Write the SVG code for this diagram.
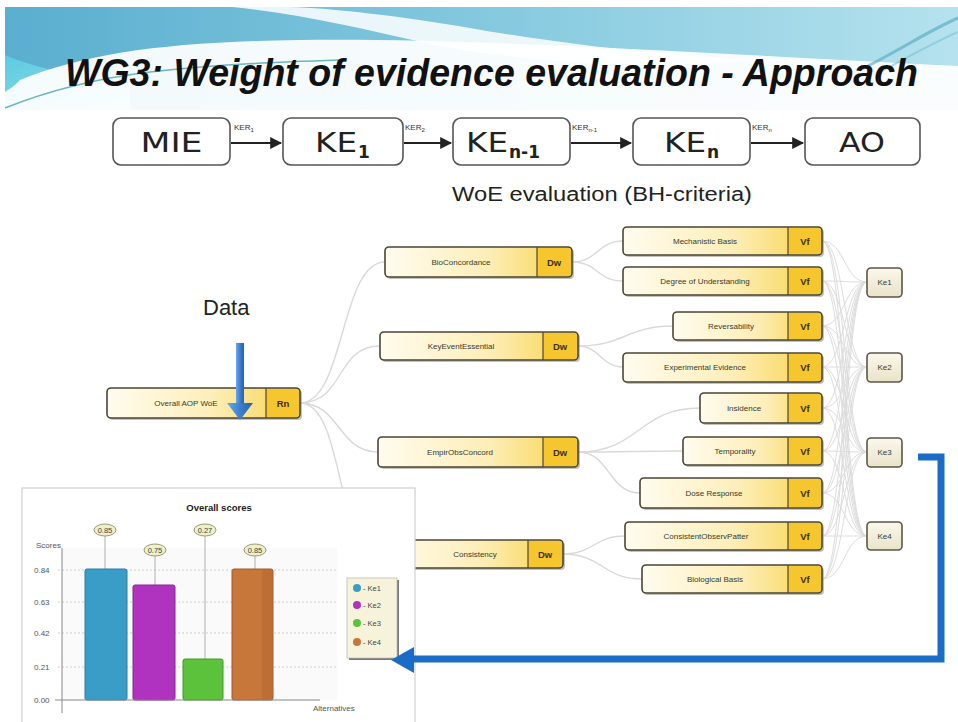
<svg xmlns="http://www.w3.org/2000/svg" width="958" height="722" viewBox="0 0 958 722">
<defs>
<linearGradient id="band" x1="0" y1="0" x2="1" y2="0">
<stop offset="0" stop-color="#5aaecf"/><stop offset="0.45" stop-color="#7fc6dd"/><stop offset="1" stop-color="#b5e2ee"/>
</linearGradient>
<linearGradient id="cyanLobe" x1="0" y1="0" x2="1" y2="1">
<stop offset="0" stop-color="#5ccbe0"/><stop offset="1" stop-color="#9fdde9"/>
</linearGradient>
<linearGradient id="nodeFill" x1="0" y1="0" x2="1" y2="0">
<stop offset="0" stop-color="#fffcef"/><stop offset="0.55" stop-color="#fdeeb8"/><stop offset="1" stop-color="#f8d24a"/>
</linearGradient>
<linearGradient id="keFill" x1="0" y1="0" x2="0" y2="1">
<stop offset="0" stop-color="#fbf8ec"/><stop offset="1" stop-color="#e9e3c8"/>
</linearGradient>
<linearGradient id="dataArrow" x1="0" y1="0" x2="1" y2="0">
<stop offset="0" stop-color="#6aa8e8"/><stop offset="0.5" stop-color="#3a7fd0"/><stop offset="1" stop-color="#2a5fae"/>
</linearGradient>
<marker id="arr" viewBox="0 0 10 10" refX="9" refY="5" markerWidth="6" markerHeight="6" orient="auto">
<path d="M0,0 L10,5 L0,10 Z" fill="#222"/>
</marker>
<style>
.aop rect{fill:#fff;stroke:#555;stroke-width:1.6}
.aopt{font-family:"DejaVu Sans",sans-serif;font-size:27px;fill:#222}
.sub{font-family:"DejaVu Sans",sans-serif;font-size:17px;fill:#222;font-weight:bold}
.ker{font-family:"Liberation Sans",sans-serif;font-size:8px;fill:#333}
.kersub{font-size:6px}
.aline{stroke:#222;stroke-width:2;fill:none;marker-end:url(#arr)}
.node .sh{fill:#8a8670;opacity:0.5}
.node .bx{fill:url(#nodeFill);stroke:#4a4636;stroke-width:1.6}
.node .tg{fill:#f6c62e}
.node .sep{stroke:#4a4636;stroke-width:1.2}
.lbl{font-family:"Liberation Sans",sans-serif;font-size:8px;fill:#3a3a2a;text-anchor:middle}
.tag{font-family:"Liberation Sans",sans-serif;font-size:9.5px;font-weight:bold;fill:#3a3320;text-anchor:middle}
.ke .bx{fill:url(#keFill);stroke:#5a5648;stroke-width:1.6}
.conn path{fill:none;stroke:#d9d9d9;stroke-width:1.4}
.web path{fill:none;stroke:#dcdcdc;stroke-width:1}
.ax{font-family:"Liberation Sans",sans-serif;font-size:8px;fill:#555}
.grid{stroke:#cfcfcf;stroke-width:1;stroke-dasharray:2,2}
.bub{fill:#eef0c8;stroke:#9a9a78;stroke-width:1}
.bubt{font-family:"Liberation Sans",sans-serif;font-size:7.5px;fill:#444;text-anchor:middle}
.leg{font-family:"Liberation Sans",sans-serif;font-size:7.5px;fill:#444}
</style>
</defs>
<rect x="0" y="0" width="958" height="722" fill="#ffffff"/>

<!-- banner -->
<g id="banner">
<rect x="5" y="7" width="953" height="103" fill="url(#band)"/>
<path d="M5,55 C40,70 80,78 130,74 L130,110 L5,110 Z" fill="url(#cyanLobe)"/>
<path d="M232,7 C300,14 360,28 430,44 C520,62 640,70 760,60 C680,58 560,44 470,28 C400,16 330,8 290,7 Z" fill="#ffffff" opacity="0.85"/>
<path d="M20,80 C90,52 170,42 300,40 C480,38 680,52 958,66 L958,112 L5,112 L5,92 C15,86 18,82 20,80 Z" fill="#ffffff" opacity="0.93"/>
<path d="M5,108 C50,90 100,78 150,72 C220,64 280,62 340,60" fill="none" stroke="#4aa6ad" stroke-width="1.6" opacity="0.8"/>
<path d="M860,70 C900,50 930,30 958,18" fill="none" stroke="#4fa7bf" stroke-width="3" opacity="0.6"/>
<path d="M880,72 C910,56 935,42 958,32" fill="none" stroke="#7cc3d6" stroke-width="2" opacity="0.6"/>
<rect x="0" y="110" width="958" height="6" fill="#ffffff"/>
<text x="65" y="86" font-family="Liberation Sans, Arial, sans-serif" font-size="38" font-weight="bold" font-style="italic" fill="#111" textLength="853" lengthAdjust="spacingAndGlyphs">WG3: Weight of evidence evaluation - Approach</text>
</g>

<!-- AOP chain -->
<g id="aop-chain">
<g id="mie" class="aop"><rect x="113" y="118" width="117" height="47" rx="8"/><text class="aopt" x="171.5" y="152" text-anchor="middle" textLength="62" lengthAdjust="spacingAndGlyphs">MIE</text></g>
<g id="ke1" class="aop"><rect x="283" y="118" width="120" height="47" rx="8"/><text class="aopt" x="315" y="152" textLength="42" lengthAdjust="spacingAndGlyphs">KE</text><text class="sub" x="358" y="158">1</text></g>
<g id="ken1" class="aop"><rect x="453" y="118" width="117" height="47" rx="8"/><text class="aopt" x="466" y="152" textLength="42" lengthAdjust="spacingAndGlyphs">KE</text><text class="sub" x="509" y="158">n-1</text></g>
<g id="ken" class="aop"><rect x="633" y="118" width="117" height="47" rx="8"/><text class="aopt" x="664" y="152" textLength="42" lengthAdjust="spacingAndGlyphs">KE</text><text class="sub" x="707" y="158">n</text></g>
<g id="ao" class="aop"><rect x="805" y="118" width="115" height="47" rx="8"/><text class="aopt" x="862" y="152" text-anchor="middle" textLength="46" lengthAdjust="spacingAndGlyphs">AO</text></g>
</g>
<g id="aop-connectors">
<path class="aline" d="M231,143 H281"/>
<path class="aline" d="M404,143 H451"/>
<path class="aline" d="M571,143 H631"/>
<path class="aline" d="M751,143 H803"/>
<text class="ker" x="234" y="130">KER<tspan class="kersub" dy="2">1</tspan></text>
<text class="ker" x="405" y="130">KER<tspan class="kersub" dy="2">2</tspan></text>
<text class="ker" x="572" y="130">KER<tspan class="kersub" dy="2">n-1</tspan></text>
<text class="ker" x="752" y="130">KER<tspan class="kersub" dy="2">n</tspan></text>
</g>

<text x="452" y="201" font-family="Liberation Sans, Arial, sans-serif" font-size="20" fill="#222" textLength="300" lengthAdjust="spacingAndGlyphs">WoE evaluation (BH-criteria)</text>
<text x="203" y="315" font-family="Liberation Sans, Arial, sans-serif" font-size="22" fill="#222">Data</text>

<!-- connectors -->
<g id="connectors">
<g class="conn">
<path d="M300,403 C345,403 340,262 385,262"/>
<path d="M300,403 C345,403 335,346 380,346"/>
<path d="M300,403 C340,403 338,452 378,452"/>
<path d="M300,403 C345,403 335,554 380,554"/>
<path d="M572,262 C598,262 597,241 623,241"/>
<path d="M572,262 C598,262 597,281 623,281"/>
<path d="M578,346 C625,346 626,326 673,326"/>
<path d="M578,346 C600,346 601,367 623,367"/>
<path d="M578,452 C640,452 638,408 700,408"/>
<path d="M578,452 C630,452 631,451 683,451"/>
<path d="M578,452 C610,452 608,493 640,493"/>
<path d="M563,554 C594,554 594,536 625,536"/>
<path d="M563,554 C602,554 603,579 642,579"/>
</g>
<g class="web">
<path d="M822,241 C845,241 844,282 867,282"/><path d="M822,241 C845,241 844,367 867,367"/><path d="M822,241 C845,241 844,452 867,452"/><path d="M822,241 C845,241 844,536 867,536"/>
<path d="M822,281 C845,281 844,282 867,282"/><path d="M822,281 C845,281 844,367 867,367"/><path d="M822,281 C845,281 844,452 867,452"/><path d="M822,281 C845,281 844,536 867,536"/>
<path d="M822,326 C845,326 844,282 867,282"/><path d="M822,326 C845,326 844,367 867,367"/><path d="M822,326 C845,326 844,452 867,452"/><path d="M822,326 C845,326 844,536 867,536"/>
<path d="M822,367 C845,367 844,282 867,282"/><path d="M822,367 C845,367 844,367 867,367"/><path d="M822,367 C845,367 844,452 867,452"/><path d="M822,367 C845,367 844,536 867,536"/>
<path d="M822,408 C845,408 844,282 867,282"/><path d="M822,408 C845,408 844,367 867,367"/><path d="M822,408 C845,408 844,452 867,452"/><path d="M822,408 C845,408 844,536 867,536"/>
<path d="M822,451 C845,451 844,282 867,282"/><path d="M822,451 C845,451 844,367 867,367"/><path d="M822,451 C845,451 844,452 867,452"/><path d="M822,451 C845,451 844,536 867,536"/>
<path d="M822,493 C845,493 844,282 867,282"/><path d="M822,493 C845,493 844,367 867,367"/><path d="M822,493 C845,493 844,452 867,452"/><path d="M822,493 C845,493 844,536 867,536"/>
<path d="M822,536 C845,536 844,282 867,282"/><path d="M822,536 C845,536 844,367 867,367"/><path d="M822,536 C845,536 844,452 867,452"/><path d="M822,536 C845,536 844,536 867,536"/>
<path d="M822,579 C845,579 844,282 867,282"/><path d="M822,579 C845,579 844,367 867,367"/><path d="M822,579 C845,579 844,452 867,452"/><path d="M822,579 C845,579 844,536 867,536"/>
</g>
</g>

<!-- tree nodes -->
<g id="overall" class="node"><rect class="sh" x="109" y="390" width="193" height="30" rx="4"/><rect class="bx" x="107" y="388" width="193" height="30" rx="4"/><path class="tg" d="M266,389 H296 Q299,389 299,392 V414 Q299,417 296,417 H266 Z"/><line class="sep" x1="266" y1="388" x2="266" y2="418"/><text class="lbl" x="186" y="406">Overall AOP WoE</text><text class="tag" x="283" y="407">Rn</text></g>

<g id="bioconcordance" class="node"><rect class="sh" x="387" y="249" width="187" height="30" rx="4"/><rect class="bx" x="385" y="247" width="187" height="30" rx="4"/><path class="tg" d="M537,248 H568 Q571,248 571,251 V273 Q571,276 568,276 H537 Z"/><line class="sep" x1="537" y1="247" x2="537" y2="277"/><text class="lbl" x="461" y="265">BioConcordance</text><text class="tag" x="554" y="266">Dw</text></g>
<g id="keyeventessential" class="node"><rect class="sh" x="382" y="334" width="198" height="28" rx="4"/><rect class="bx" x="380" y="332" width="198" height="28" rx="4"/><path class="tg" d="M543,333 H574 Q577,333 577,336 V356 Q577,359 574,359 H543 Z"/><line class="sep" x1="543" y1="332" x2="543" y2="360"/><text class="lbl" x="461" y="349">KeyEventEssential</text><text class="tag" x="560" y="350">Dw</text></g>
<g id="empirobsconcord" class="node"><rect class="sh" x="380" y="439" width="200" height="30" rx="4"/><rect class="bx" x="378" y="437" width="200" height="30" rx="4"/><path class="tg" d="M543,438 H574 Q577,438 577,441 V463 Q577,466 574,466 H543 Z"/><line class="sep" x1="543" y1="437" x2="543" y2="467"/><text class="lbl" x="460" y="455">EmpirObsConcord</text><text class="tag" x="560" y="456">Dw</text></g>
<g id="consistency" class="node"><rect class="sh" x="382" y="542" width="183" height="28" rx="4"/><rect class="bx" x="380" y="540" width="183" height="28" rx="4"/><path class="tg" d="M528,541 H559 Q562,541 562,544 V564 Q562,567 559,567 H528 Z"/><line class="sep" x1="528" y1="540" x2="528" y2="568"/><text class="lbl" x="475" y="557">Consistency</text><text class="tag" x="545" y="558">Dw</text></g>

<g id="mechanistic-basis" class="node"><rect class="sh" x="625" y="229" width="199" height="28" rx="4"/><rect class="bx" x="623" y="227" width="199" height="28" rx="4"/><path class="tg" d="M788,228 H818 Q821,228 821,231 V251 Q821,254 818,254 H788 Z"/><line class="sep" x1="788" y1="227" x2="788" y2="255"/><text class="lbl" x="705" y="244">Mechanistic Basis</text><text class="tag" x="805" y="245">Vf</text></g>
<g id="degree-of-understanding" class="node"><rect class="sh" x="625" y="269" width="199" height="28" rx="4"/><rect class="bx" x="623" y="267" width="199" height="28" rx="4"/><path class="tg" d="M788,268 H818 Q821,268 821,271 V291 Q821,294 818,294 H788 Z"/><line class="sep" x1="788" y1="267" x2="788" y2="295"/><text class="lbl" x="705" y="284">Degree of Understanding</text><text class="tag" x="805" y="285">Vf</text></g>
<g id="reversability" class="node"><rect class="sh" x="675" y="314" width="149" height="28" rx="4"/><rect class="bx" x="673" y="312" width="149" height="28" rx="4"/><path class="tg" d="M788,313 H818 Q821,313 821,316 V336 Q821,339 818,339 H788 Z"/><line class="sep" x1="788" y1="312" x2="788" y2="340"/><text class="lbl" x="731" y="329">Reversability</text><text class="tag" x="805" y="330">Vf</text></g>
<g id="experimental-evidence" class="node"><rect class="sh" x="625" y="355" width="199" height="29" rx="4"/><rect class="bx" x="623" y="353" width="199" height="29" rx="4"/><path class="tg" d="M788,354 H818 Q821,354 821,357 V378 Q821,381 818,381 H788 Z"/><line class="sep" x1="788" y1="353" x2="788" y2="382"/><text class="lbl" x="705" y="370">Experimental Evidence</text><text class="tag" x="805" y="371">Vf</text></g>
<g id="insidence" class="node"><rect class="sh" x="702" y="395" width="122" height="30" rx="4"/><rect class="bx" x="700" y="393" width="122" height="30" rx="4"/><path class="tg" d="M788,394 H818 Q821,394 821,397 V419 Q821,422 818,422 H788 Z"/><line class="sep" x1="788" y1="393" x2="788" y2="423"/><text class="lbl" x="744" y="411">Insidence</text><text class="tag" x="805" y="412">Vf</text></g>
<g id="temporality" class="node"><rect class="sh" x="685" y="439" width="139" height="28" rx="4"/><rect class="bx" x="683" y="437" width="139" height="28" rx="4"/><path class="tg" d="M788,438 H818 Q821,438 821,441 V461 Q821,464 818,464 H788 Z"/><line class="sep" x1="788" y1="437" x2="788" y2="465"/><text class="lbl" x="735" y="454">Temporality</text><text class="tag" x="805" y="455">Vf</text></g>
<g id="dose-response" class="node"><rect class="sh" x="642" y="480" width="182" height="30" rx="4"/><rect class="bx" x="640" y="478" width="182" height="30" rx="4"/><path class="tg" d="M788,479 H818 Q821,479 821,482 V504 Q821,507 818,507 H788 Z"/><line class="sep" x1="788" y1="478" x2="788" y2="508"/><text class="lbl" x="714" y="496">Dose Response</text><text class="tag" x="805" y="497">Vf</text></g>
<g id="consistent-observ-patter" class="node"><rect class="sh" x="627" y="524" width="197" height="28" rx="4"/><rect class="bx" x="625" y="522" width="197" height="28" rx="4"/><path class="tg" d="M788,523 H818 Q821,523 821,526 V546 Q821,549 818,549 H788 Z"/><line class="sep" x1="788" y1="522" x2="788" y2="550"/><text class="lbl" x="706" y="539">ConsistentObservPatter</text><text class="tag" x="805" y="540">Vf</text></g>
<g id="biological-basis" class="node"><rect class="sh" x="644" y="567" width="180" height="28" rx="4"/><rect class="bx" x="642" y="565" width="180" height="28" rx="4"/><path class="tg" d="M788,566 H818 Q821,566 821,569 V589 Q821,592 818,592 H788 Z"/><line class="sep" x1="788" y1="565" x2="788" y2="593"/><text class="lbl" x="715" y="582">Biological Basis</text><text class="tag" x="805" y="583">Vf</text></g>

<g id="ke1-node" class="ke"><rect class="bx" x="867" y="268" width="35" height="29" rx="4"/><text class="lbl" x="884.5" y="285">Ke1</text></g>
<g id="ke2-node" class="ke"><rect class="bx" x="867" y="353" width="35" height="29" rx="4"/><text class="lbl" x="884.5" y="370">Ke2</text></g>
<g id="ke3-node" class="ke"><rect class="bx" x="867" y="438" width="35" height="29" rx="4"/><text class="lbl" x="884.5" y="455">Ke3</text></g>
<g id="ke4-node" class="ke"><rect class="bx" x="867" y="522" width="35" height="28" rx="4"/><text class="lbl" x="884.5" y="539">Ke4</text></g>

<!-- Data arrow -->
<g id="data-arrow">
<rect x="236" y="343" width="8" height="62" fill="url(#dataArrow)"/>
<path d="M227,403 H253 L240,420 Z" fill="url(#dataArrow)"/>
</g>

<!-- chart -->
<g id="chart">
<rect x="22" y="488" width="393" height="240" fill="#ffffff" stroke="#d0d0d0" stroke-width="1.2"/>
<rect x="62" y="548" width="275" height="152" fill="#fafafa"/>
<text x="219" y="511" font-family="Liberation Sans, sans-serif" font-size="9.5" font-weight="bold" fill="#222" text-anchor="middle">Overall scores</text>
<text class="ax" x="36" y="548">Scores</text>
<line class="grid" x1="58" y1="570" x2="337" y2="570"/>
<line class="grid" x1="58" y1="602" x2="337" y2="602"/>
<line class="grid" x1="58" y1="633" x2="337" y2="633"/>
<line class="grid" x1="58" y1="667" x2="337" y2="667"/>
<text class="ax" x="34" y="573">0.84</text>
<text class="ax" x="34" y="605">0.63</text>
<text class="ax" x="34" y="636">0.42</text>
<text class="ax" x="34" y="670">0.21</text>
<text class="ax" x="34" y="703">0.00</text>
<line x1="105" y1="536" x2="105" y2="569" stroke="#b0b0b0"/>
<line x1="155" y1="556" x2="155" y2="585" stroke="#b0b0b0"/>
<line x1="205" y1="536" x2="205" y2="659" stroke="#b0b0b0"/>
<line x1="255" y1="556" x2="255" y2="569" stroke="#b0b0b0"/>
<rect x="85" y="569" width="42" height="131" rx="2" fill="#3a9dc8" stroke="#2a7ca0"/>
<rect x="133" y="585" width="42" height="115" rx="2" fill="#b033c0" stroke="#8a2598"/>
<rect x="183" y="659" width="40" height="41" rx="2" fill="#5cc23c" stroke="#44982c"/>
<rect x="232" y="569" width="41" height="131" rx="2" fill="#c8773a" stroke="#a05a28"/>
<rect x="262" y="570" width="10" height="129" fill="#b0652e" opacity="0.5"/>
<line x1="62" y1="548" x2="62" y2="713" stroke="#888"/>
<line x1="55" y1="700" x2="320" y2="700" stroke="#888"/>
<text class="ax" x="313" y="711">Alternatives</text>
<ellipse class="bub" cx="105" cy="530" rx="11" ry="6"/><text class="bubt" x="105" y="533">0.85</text>
<ellipse class="bub" cx="155" cy="550" rx="11" ry="6"/><text class="bubt" x="155" y="553">0.75</text>
<ellipse class="bub" cx="205" cy="530" rx="11" ry="6"/><text class="bubt" x="205" y="533">0.27</text>
<ellipse class="bub" cx="255" cy="550" rx="11" ry="6"/><text class="bubt" x="255" y="553">0.85</text>
<rect x="349" y="580" width="50" height="80" fill="#777"/>
<rect x="347" y="578" width="50" height="80" fill="#f7f3da" stroke="#bbb" stroke-width="0.8"/>
<circle cx="357" cy="588" r="4" fill="#3a9dc8"/><text class="leg" x="363" y="591">- Ke1</text>
<circle cx="357" cy="605" r="4" fill="#b033c0"/><text class="leg" x="363" y="608">- Ke2</text>
<circle cx="357" cy="623" r="4" fill="#5cc23c"/><text class="leg" x="363" y="626">- Ke3</text>
<circle cx="357" cy="642" r="4" fill="#c8773a"/><text class="leg" x="363" y="645">- Ke4</text>
</g>

<!-- feedback arrow -->
<g id="feedback-arrow">
<path d="M918,457 H941 V659 H410" fill="none" stroke="#1a6cc6" stroke-width="7" stroke-linejoin="miter"/>
<path d="M391,660 L414,647 L414,673 Z" fill="#1a6cc6"/>
</g>
</svg>
